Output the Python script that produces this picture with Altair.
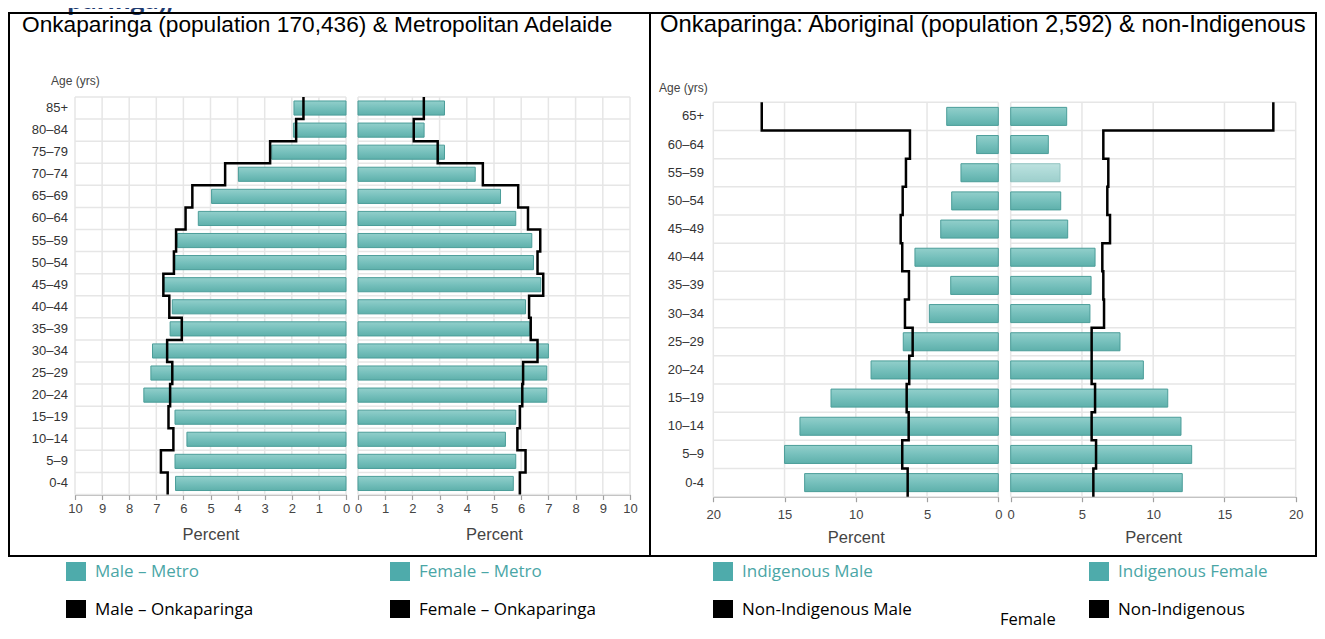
import altair as alt
import pandas as pd

# ---------------- data ----------------
ages_left = ["85+", "80–84", "75–79", "70–74", "65–69", "60–64", "55–59", "50–54", "45–49",
             "40–44", "35–39", "30–34", "25–29", "20–24", "15–19", "10–14", "5–9", "0-4"]
male_metro = [1.92, 1.94, 2.74, 3.97, 4.96, 5.45, 6.22, 6.31, 6.72,
              6.41, 6.49, 7.14, 7.20, 7.46, 6.31, 5.87, 6.31, 6.29]
male_onka = [1.57, 1.84, 2.80, 4.46, 5.67, 5.92, 6.27, 6.35, 6.74,
             6.52, 6.06, 6.60, 6.41, 6.49, 6.55, 6.37, 6.83, 6.58]
female_metro = [3.18, 2.43, 3.18, 4.31, 5.24, 5.80, 6.39, 6.45, 6.72,
                6.16, 6.31, 7.00, 6.94, 6.94, 5.80, 5.42, 5.80, 5.71]
female_onka = [2.42, 2.05, 2.93, 4.59, 5.89, 6.25, 6.70, 6.60, 6.81,
               6.29, 6.35, 6.60, 6.07, 6.04, 5.95, 5.86, 6.16, 5.95]

ages_right = ["65+", "60–64", "55–59", "50–54", "45–49", "40–44", "35–39",
              "30–34", "25–29", "20–24", "15–19", "10–14", "5–9", "0-4"]
ind_male = [3.62, 1.52, 2.62, 3.27, 4.04, 5.85, 3.34, 4.84, 6.67, 8.93, 11.74, 13.92, 15.0, 13.59]
nonind_male = [16.6, 6.20, 6.48, 6.71, 6.85, 6.74, 6.27, 6.55, 6.01, 6.25, 6.43, 6.29, 6.74, 6.36]
ind_female = [3.93, 2.64, 3.46, 3.51, 4.00, 5.92, 5.64, 5.56, 7.67, 9.31, 11.02, 11.95, 12.70, 12.04]
nonind_female = [18.43, 6.50, 6.85, 6.78, 6.97, 6.43, 6.50, 6.55, 5.68, 5.68, 5.92, 5.68, 5.99, 5.80]

ticks_left = list(range(0, 11))
ticks_right = [0, 5, 10, 15, 20]

title_left = "Onkaparinga (population 170,436) & Metropolitan Adelaide"
title_right = "Onkaparinga: Aboriginal (population 2,592) & non-Indigenous"
top_fragment = "paringa),"

legend_items = [
    ("Male – Metro", "teal"), ("Male – Onkaparinga", "black"),
    ("Female – Metro", "teal"), ("Female –  Onkaparinga", "black"),
    ("Indigenous Male", "teal"), ("Non-Indigenous Male", "black"),
    ("Indigenous Female", "teal"), ("Non-Indigenous", "black"),
]
legend_extra = "Female"

# ---------------- styling ----------------
W, H = 1309, 623
TEAL = "#4eabab"
LEG_TEAL_TEXT = "#4aa6a6"
GRID = "#e6e6e6"
NARROW = "Liberation Sans Narrow, Liberation Sans, Arial, sans-serif"
SANS = "Liberation Sans, Arial, sans-serif"
LEGFONT = "Open Sans, Noto Sans, sans-serif"
BAR_FILL = {"gradient": "linear", "x1": 0, "x2": 0, "y1": 0, "y2": 1,
            "stops": [{"offset": 0, "color": "#92cfcb"},
                      {"offset": 0.5, "color": "#76c0bc"},
                      {"offset": 1, "color": "#5eb0ab"}]}

one = pd.DataFrame({"a": [0]})


def panel(ages, bar_vals, line_vals, xrange, xmax, ticks, yrange,
          label_pad, title_pad, highlight=None):
    n = len(ages)
    xs = alt.Scale(domain=[0, xmax], range=xrange, nice=False, zero=True)
    band = alt.Scale(domain=ages, range=yrange, paddingInner=0.36, paddingOuter=0.18)
    yq = alt.Scale(domain=[0, n], range=yrange, nice=False, zero=False)
    layers = []
    # vertical grid
    layers.append(
        alt.Chart(pd.DataFrame({"t": ticks})).mark_rule(color=GRID, strokeWidth=1.5).encode(
            x=alt.X("t:Q", scale=xs, axis=None),
            y=alt.value(yrange[0]), y2=alt.value(yrange[1]))
    )
    # horizontal grid (row boundaries)
    layers.append(
        alt.Chart(pd.DataFrame({"i": list(range(n + 1))})).mark_rule(color=GRID, strokeWidth=1.5).encode(
            y=alt.Y("i:Q", scale=yq, axis=None),
            x=alt.value(min(xrange)), x2=alt.value(max(xrange)))
    )
    # bars
    dfb = pd.DataFrame({"age": ages, "value": bar_vals})
    op = alt.value(1)
    if highlight is not None:
        op = alt.condition(alt.datum.age == highlight, alt.value(0.6), alt.value(1))
    layers.append(
        alt.Chart(dfb).mark_bar(fill=BAR_FILL, stroke="#4b9d99", strokeWidth=1).encode(
            x=alt.X("value:Q", scale=xs,
                    axis=alt.Axis(orient="bottom", offset=yrange[1] - H, values=ticks, format="d",
                                  grid=False, domainColor="#a0a0a0", domainWidth=1.5,
                                  tickColor="#a0a0a0", tickSize=5, tickWidth=1.2,
                                  labelFont=NARROW, labelFontSize=13, labelColor="#444",
                                  labelPadding=label_pad, labelFlush=False, labelOverlap=False,
                                  title="Percent", titleFont=SANS, titleFontSize=16.5,
                                  titleFontWeight="normal", titleColor="#444",
                                  titlePadding=title_pad)),
            y=alt.Y("age:N", scale=band, axis=None),
            opacity=op)
    )
    # step line
    rows = []
    for i, v in enumerate(line_vals):
        rows.append({"k": 2 * i, "idx": i, "v": v})
        rows.append({"k": 2 * i + 1, "idx": i + 1, "v": v})
    layers.append(
        alt.Chart(pd.DataFrame(rows)).mark_line(color="black", strokeWidth=2.5,
                                                strokeJoin="miter", strokeCap="butt").encode(
            x=alt.X("v:Q", scale=xs, axis=None),
            y=alt.Y("idx:Q", scale=yq, axis=None),
            order="k:Q")
    )
    return layers, band


layers = []

# left box panels
yL = [89, 486.5]
l1, bandL = panel(ages_left, male_metro, male_onka, [338, 67], 10, ticks_left, yL, 3, 11)
l2, _ = panel(ages_left, female_metro, female_onka, [350, 622], 10, ticks_left, yL, 3, 11)
# right box panels
yR = [94.3, 488.7]
r1, bandR = panel(ages_right, ind_male, nonind_male, [990.3, 705.3], 20, ticks_right, yR, 7, 8)
r2, _ = panel(ages_right, ind_female, nonind_female, [1002.7, 1287.7], 20, ticks_right, yR, 7, 8,
              highlight="55–59")
layers += l1 + l2 + r1 + r2

# age labels
layers.append(
    alt.Chart(pd.DataFrame({"age": ages_left})).mark_text(
        align="right", baseline="middle", font=NARROW, fontSize=13, color="#333").encode(
        y=alt.Y("age:N", scale=bandL, axis=None), x=alt.value(60), text="age:N")
)
layers.append(
    alt.Chart(pd.DataFrame({"age": ages_right})).mark_text(
        align="right", baseline="middle", font=NARROW, fontSize=13, color="#333").encode(
        y=alt.Y("age:N", scale=bandR, axis=None), x=alt.value(696), text="age:N")
)


def text_at(txt, x, y, **kw):
    return alt.Chart(one).mark_text(text=txt, **kw).encode(x=alt.value(x), y=alt.value(y))


layers.append(text_at("Age (yrs)", 43, 73, align="left", baseline="middle", font=NARROW, fontSize=12, color="#444"))
layers.append(text_at("Age (yrs)", 651, 80, align="left", baseline="middle", font=NARROW, fontSize=12, color="#444"))

# box titles
layers.append(text_at(title_left, 14, 24, align="left", baseline="alphabetic", font=SANS, fontSize=22.7, color="black"))
layers.append(text_at(title_right, 652, 24, align="left", baseline="alphabetic", font=SANS, fontSize=23.8, color="black"))

# clipped heading fragment at the very top (only its lower part is visible)
layers.append(text_at(top_fragment, 59, 0.5, align="left", baseline="alphabetic", font=LEGFONT,
                      fontSize=24, fontWeight="bold", color="#1f3b70"))

# boxes
for x0, x1 in [(1, 642), (642, 1308)]:
    layers.append(
        alt.Chart(one).mark_rect(filled=False, stroke="black", strokeWidth=2).encode(
            x=alt.value(x0), x2=alt.value(x1), y=alt.value(5), y2=alt.value(548))
    )

# legend
col_x = [58, 382, 705, 1081]
row_y = [(554, 573), (592, 610)]
for j, (label, kind) in enumerate(legend_items):
    cx = col_x[j // 2]
    ry0, ry1 = row_y[j % 2]
    sq_col = TEAL if kind == "teal" else "black"
    txt_col = LEG_TEAL_TEXT if kind == "teal" else "black"
    layers.append(
        alt.Chart(one).mark_rect(color=sq_col).encode(
            x=alt.value(cx), x2=alt.value(cx + 20), y=alt.value(ry0), y2=alt.value(ry1))
    )
    layers.append(text_at(label, cx + 29, (ry0 + ry1) / 2 + 0.5, align="left", baseline="middle",
                          font=LEGFONT, fontSize=17, color=txt_col))
layers.append(text_at(legend_extra, 992, 612, align="left", baseline="middle",
                      font=LEGFONT, fontSize=16.5, color="black"))

chart = alt.layer(*layers).resolve_scale(
    x="independent", y="independent", opacity="independent"
).resolve_axis(x="independent", y="independent").properties(
    width=W, height=H, padding=0, autosize="none", background="white"
).configure_view(stroke=None)

chart.save("out.html", embed_options={"renderer": "svg", "actions": False})
